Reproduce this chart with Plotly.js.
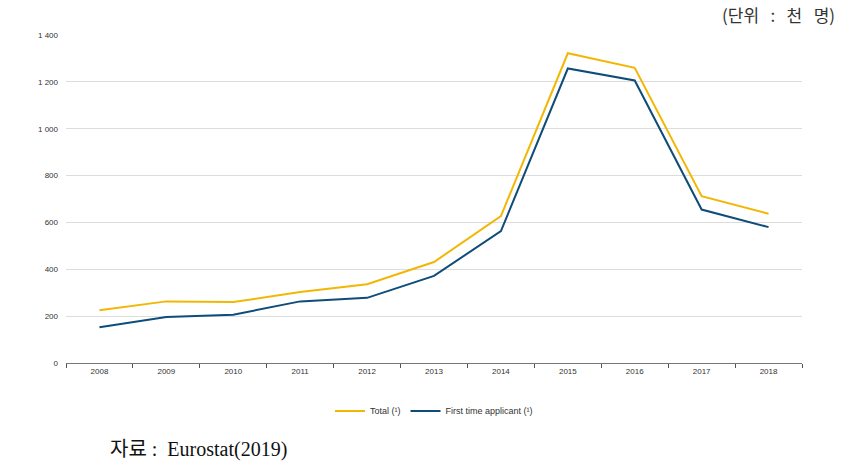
<!DOCTYPE html>
<html>
<head>
<meta charset="utf-8">
<script src="https://cdn.plot.ly/plotly-3.0.1.min.js"></script>
<style>html,body{margin:0;padding:0;background:#fff;}#chart{width:848px;height:465px;}</style>
</head>
<body>
<div id="chart"></div>
<script>
const years = ['2008','2009','2010','2011','2012','2013','2014','2015','2016','2017','2018'];
const totalApplicants = [225, 263, 260, 303, 336, 431, 627, 1322, 1260, 712, 637];
const firstTimeApplicants = [153, 196, 206, 263, 278, 372, 563, 1257, 1206, 655, 580];
const seriesNames = ['Total (¹)', 'First time applicant (¹)'];
const unitLabel = '(단위 &nbsp;&nbsp;: &nbsp;&nbsp;천 &nbsp;&nbsp;명)';
const sourceLabel = '자료 : &nbsp;Eurostat(2019)';

const traces = [
  {x: years, y: totalApplicants, name: seriesNames[0], type: 'scatter', mode: 'lines',
   line: {color: '#F2B705', width: 2}},
  {x: years, y: firstTimeApplicants, name: seriesNames[1], type: 'scatter', mode: 'lines',
   line: {color: '#0E4C7A', width: 2}}
];

const layout = {
  width: 848, height: 465,
  margin: {l: 66, r: 46, t: 35, b: 102},
  paper_bgcolor: '#fff', plot_bgcolor: '#fff',
  separators: '. ',
  showlegend: true,
  font: {family: 'Liberation Sans, Arial, sans-serif', size: 8, color: '#333'},
  xaxis: {
    type: 'category', range: [-0.5, 10.5], tickson: 'boundaries', ticks: 'outside', ticklen: 4, tickcolor: '#555',
    showline: true, linecolor: '#777', linewidth: 1, showgrid: false,
    tickfont: {size: 8, color: '#333'}, fixedrange: true
  },
  yaxis: {
    range: [0, 1400], dtick: 200, showline: false, zeroline: false,
    gridcolor: '#dddddd', gridwidth: 1, separatethousands: true, tickformat: ',d',
    tickfont: {size: 8, color: '#333'}, ticklabelstandoff: 7, fixedrange: true
  },
  legend: {orientation: 'h', x: 0.5, xanchor: 'center', y: -0.146, yanchor: 'middle',
    font: {size: 9, color: '#333'}, itemwidth: 30},
  annotations: [
    {text: unitLabel, xref: 'paper', yref: 'paper', x: 1.047, xanchor: 'right', y: 1.062, yanchor: 'middle',
     showarrow: false, font: {family: 'Noto Sans CJK KR, sans-serif', size: 17, color: '#333'}},
    {text: sourceLabel, xref: 'paper', yref: 'paper', x: 0.057, xanchor: 'left', y: -0.265, yanchor: 'middle',
     showarrow: false, font: {family: 'Liberation Serif, Noto Sans CJK KR, serif', size: 20, color: '#111'}}
  ]
};

Plotly.newPlot('chart', traces, layout, {displayModeBar: false, staticPlot: true});
</script>
</body>
</html>
